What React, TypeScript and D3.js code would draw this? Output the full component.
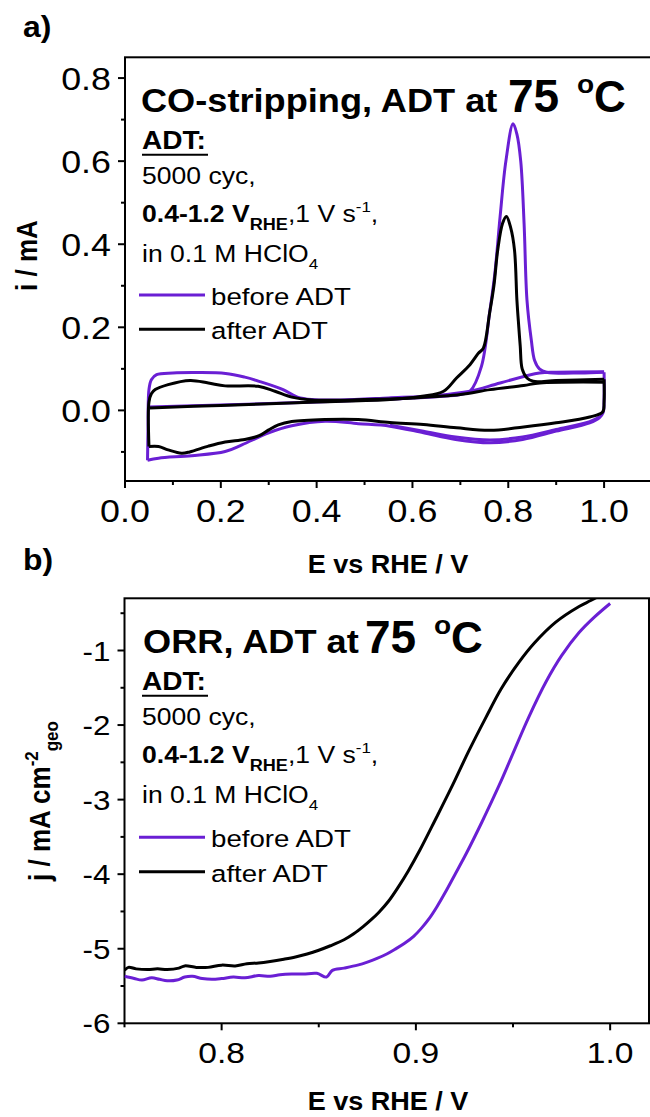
import React from "react";
import * as d3 from "d3";

const PURPLE = "#6a1fd4";
const FONT = "'Liberation Sans', Arial, sans-serif";

// ---- panel a: CO-stripping CVs, [E / V, i / mA]
const beforeStripScan = [
  [0.05, 0.008], [0.2, 0.013], [0.4, 0.02], [0.55, 0.027], [0.65, 0.033], [0.7, 0.038],
  [0.72, 0.046], [0.744, 0.106], [0.761, 0.235], [0.772, 0.33], [0.783, 0.467], [0.795, 0.6],
  [0.81, 0.69], [0.818, 0.665], [0.826, 0.6], [0.833, 0.45], [0.839, 0.266], [0.848, 0.17],
  [0.855, 0.12], [0.865, 0.1], [0.88, 0.092], [0.95, 0.09], [1.0, 0.092],
];
const beforeCathodic = [
  [1.0, 0.092], [1.0, 0.03], [0.998, -0.005], [0.99, -0.018], [0.97, -0.03], [0.9, -0.05],
  [0.83, -0.07], [0.762, -0.078], [0.69, -0.07], [0.623, -0.054], [0.553, -0.038], [0.487, -0.032],
  [0.418, -0.026], [0.348, -0.037], [0.3, -0.054], [0.244, -0.083], [0.209, -0.099], [0.139, -0.109],
  [0.07, -0.115], [0.047, -0.12],
];
const beforeCathodic2 = [
  [0.99, -0.016], [0.97, -0.027], [0.9, -0.046], [0.83, -0.064], [0.762, -0.071], [0.69, -0.064],
  [0.623, -0.05], [0.553, -0.036],
];
const beforeCv = [
  [0.047, -0.12], [0.048, -0.05], [0.05, 0.05], [0.055, 0.074], [0.066, 0.086], [0.1, 0.09],
  [0.15, 0.091], [0.21, 0.089], [0.25, 0.08], [0.28, 0.07], [0.33, 0.05], [0.36, 0.032],
  [0.39, 0.026], [0.45, 0.025], [0.55, 0.03], [0.65, 0.036], [0.72, 0.046], [0.783, 0.066],
  [0.865, 0.09], [0.9, 0.092], [1.0, 0.093],
];
const afterStripScan = [
  [0.052, 0.006], [0.2, 0.012], [0.4, 0.02], [0.553, 0.026], [0.62, 0.034], [0.665, 0.046],
  [0.692, 0.078], [0.72, 0.11], [0.738, 0.138], [0.748, 0.15], [0.761, 0.234], [0.77, 0.3],
  [0.778, 0.386], [0.788, 0.45], [0.796, 0.467], [0.805, 0.44], [0.813, 0.386], [0.818, 0.266],
  [0.822, 0.2], [0.825, 0.154], [0.829, 0.1], [0.839, 0.078], [0.852, 0.07], [0.9, 0.072],
  [1.0, 0.075],
];
const afterCathodic = [
  [1.0, 0.075], [1.0, 0.02], [0.997, -0.004], [0.97, -0.016], [0.9, -0.03], [0.832, -0.04],
  [0.762, -0.048], [0.692, -0.042], [0.623, -0.034], [0.553, -0.029], [0.487, -0.022], [0.418, -0.022],
  [0.348, -0.027], [0.32, -0.035], [0.3, -0.047], [0.28, -0.061], [0.25, -0.07], [0.209, -0.076],
  [0.174, -0.086], [0.135, -0.1], [0.118, -0.103], [0.09, -0.095], [0.07, -0.087], [0.05, -0.087],
];
const afterCv = [
  [0.05, -0.087], [0.05, 0.02], [0.055, 0.04], [0.063, 0.05], [0.09, 0.062], [0.136, 0.072],
  [0.174, 0.066], [0.209, 0.059], [0.278, 0.058], [0.313, 0.046], [0.348, 0.032], [0.39, 0.025],
  [0.5, 0.026], [0.6, 0.03], [0.7, 0.038], [0.762, 0.05], [0.832, 0.06], [0.866, 0.066], [1.0, 0.068],
];

// ---- panel b: ORR polarisation curves, [E / V, j / mA cm-2]
const beforeOrr = [
  [0.75, -5.37], [0.755, -5.4], [0.759, -5.42], [0.764, -5.39], [0.768, -5.41], [0.772, -5.43],
  [0.777, -5.42], [0.781, -5.38], [0.785, -5.37], [0.79, -5.4], [0.795, -5.41], [0.8, -5.4],
  [0.806, -5.38], [0.812, -5.39], [0.819, -5.36], [0.825, -5.37], [0.83, -5.35], [0.836, -5.34],
  [0.842, -5.34], [0.849, -5.33], [0.854, -5.38], [0.857, -5.29], [0.863, -5.26], [0.87, -5.22],
  [0.875, -5.18], [0.88, -5.13], [0.885, -5.07], [0.889, -5.01], [0.894, -4.93], [0.899, -4.83],
  [0.903, -4.72], [0.907, -4.59], [0.911, -4.43], [0.915, -4.25], [0.92, -4.01], [0.926, -3.72],
  [0.934, -3.3], [0.943, -2.8], [0.949, -2.44], [0.958, -1.9], [0.967, -1.42], [0.975, -1.07],
  [0.984, -0.76], [0.992, -0.55], [1.0, -0.37],
];
const afterOrr = [
  [0.75, -5.29], [0.752, -5.25], [0.756, -5.27], [0.762, -5.28], [0.767, -5.27], [0.772, -5.28],
  [0.778, -5.26], [0.781, -5.23], [0.787, -5.25], [0.793, -5.25], [0.8, -5.22], [0.807, -5.23],
  [0.813, -5.2], [0.819, -5.19], [0.825, -5.17], [0.832, -5.14], [0.838, -5.11], [0.844, -5.07],
  [0.85, -5.02], [0.856, -4.96], [0.863, -4.88], [0.868, -4.8], [0.873, -4.7], [0.877, -4.61],
  [0.881, -4.51], [0.886, -4.36], [0.891, -4.17], [0.896, -3.96], [0.902, -3.68], [0.91, -3.27],
  [0.919, -2.8], [0.927, -2.36], [0.936, -1.9], [0.944, -1.51], [0.953, -1.16], [0.961, -0.9],
  [0.972, -0.62], [0.984, -0.41], [0.99, -0.33], [0.995, -0.26],
];

const xTicksA = [0, 0.2, 0.4, 0.6, 0.8, 1.0];
const xMinorA = [0.1, 0.3, 0.5, 0.7, 0.9];
const yTicksA = [0, 0.2, 0.4, 0.6, 0.8];
const yMinorA = [-0.1, 0.1, 0.3, 0.5, 0.7];
const xTicksB = [0.8, 0.9, 1.0];
const xMinorB = [0.75, 0.85, 0.95];
const yTicksB = [-6, -5, -4, -3, -2, -1];
const yMinorB = [-5.5, -4.5, -3.5, -2.5, -1.5, -0.5];

// the source figure is stretched sideways, so text is scaled in x
function T({ x, y, sx = 1.13, anchor = "start", size, weight = "normal", rot = false, children }) {
  return (
    <text transform={`translate(${x},${y}) scale(${sx},1)${rot ? " rotate(-90)" : ""}`}
      textAnchor={anchor} fontSize={size} fontWeight={weight} fill="#000">
      {children}
    </text>
  );
}

function Axes({ x, y, xt, xm, yt, ym, xFmt, yFmt, xSize, ySize, xLabY, id }) {
  const [x0, x1] = x.range();
  const [y0, y1] = y.range();
  return (
    <g>
      <clipPath id={id}><rect x={x0} y={y1} width={x1 - x0} height={y0 - y1} /></clipPath>
      <rect x={x0} y={y1} width={x1 - x0} height={y0 - y1} fill="none" stroke="#000" strokeWidth={2} />
      {xt.map(v => <line key={"xt" + v} x1={x(v)} x2={x(v)} y1={y0} y2={y0 + 7} stroke="#000" strokeWidth={2} />)}
      {xm.map(v => <line key={"xm" + v} x1={x(v)} x2={x(v)} y1={y0} y2={y0 + 4} stroke="#000" strokeWidth={2} />)}
      {yt.map(v => <line key={"yt" + v} x1={x0 - 7} x2={x0} y1={y(v)} y2={y(v)} stroke="#000" strokeWidth={2} />)}
      {ym.map(v => <line key={"ym" + v} x1={x0 - 4} x2={x0} y1={y(v)} y2={y(v)} stroke="#000" strokeWidth={2} />)}
      {xt.map(v => <T key={"xl" + v} x={x(v)} y={xLabY} anchor="middle" size={xSize} sx={1.12}>{xFmt(v)}</T>)}
      {yt.map(v => <T key={"yl" + v} x={x0 - 14} y={y(v) + ySize * 0.36} anchor="end" size={ySize} sx={1.12}>{yFmt(v)}</T>)}
    </g>
  );
}

function Notes({ top, titleX, title, t75 }) {
  // top: baseline of the title line
  const b = top;
  return (
    <g>
      <T x={titleX} y={b} size={33.5} weight="bold" sx={1.08}>{title}</T>
      <T x={t75} y={b} size={46} weight="bold" sx={1.0}>75</T>
      <T x={t75 + 69} y={b - 19} size={26} weight="bold" sx={1.08}>o</T>
      <T x={t75 + 86} y={b} size={44} weight="bold" sx={1.0}>C</T>
      <T x={142} y={b + 37} size={26} weight="bold" sx={1.08}>ADT:</T>
      <line x1={142} x2={208} y1={b + 43} y2={b + 43} stroke="#000" strokeWidth={2} />
      <T x={142} y={b + 72} size={23.5}>5000 cyc,</T>
      <T x={142} y={b + 110} size={23.5}>
        <tspan fontWeight="bold">0.4-1.2 V</tspan>
        <tspan fontWeight="bold" fontSize={16} dy={8}>RHE</tspan>
        <tspan dy={-8}>,1 V s</tspan>
        <tspan fontSize={15} dy={-10}>-1</tspan>
        <tspan dy={10}>,</tspan>
      </T>
      <T x={142} y={b + 150} size={23.5}>
        in 0.1 M HClO<tspan fontSize={15} dy={7}>4</tspan>
      </T>
    </g>
  );
}

function Legend({ y1, y2 }) {
  return (
    <g>
      <line x1={139} x2={205} y1={y1} y2={y1} stroke={PURPLE} strokeWidth={3} />
      <T x={211} y={y1 + 10} size={24.5}>before ADT</T>
      <line x1={139} x2={205} y1={y2} y2={y2} stroke="#000" strokeWidth={3} />
      <T x={211} y={y2 + 10} size={24.5}>after ADT</T>
    </g>
  );
}

export default function App() {
  const xA = d3.scaleLinear().domain([0, 1.1]).range([125, 652]);
  const yA = d3.scaleLinear().domain([-0.17, 0.85]).range([481, 57.3]);
  const xB = d3.scaleLinear().domain([0.75, 1.02]).range([124.5, 649]);
  const yB = d3.scaleLinear().domain([-6, -0.3]).range([1023.3, 598.3]);

  const lineA = d3.line().x(d => xA(d[0])).y(d => yA(d[1])).curve(d3.curveCatmullRom.alpha(0.5));
  const lineB = d3.line().x(d => xB(d[0])).y(d => yB(d[1])).curve(d3.curveCatmullRom.alpha(0.5));
  const f1 = d3.format(".1f");

  const cvA = [
    [beforeStripScan, PURPLE], [beforeCathodic, PURPLE], [beforeCathodic2, PURPLE], [beforeCv, PURPLE],
    [afterStripScan, "#000"], [afterCathodic, "#000"], [afterCv, "#000"],
  ];

  return (
    <svg width={650} height={1117} style={{ position: "absolute", left: 0, top: 0, background: "#fff" }}
      fontFamily={FONT}>
      {/* ---- panel a ---- */}
      <T x={23} y={37} size={29} weight="bold" sx={1.1}>a)</T>
      <Axes id="clipA" x={xA} y={yA} xt={xTicksA} xm={xMinorA} yt={yTicksA} ym={yMinorA}
        xFmt={f1} yFmt={f1} xSize={32} ySize={32} xLabY={521.7} />
      <g clipPath="url(#clipA)">
        {cvA.map(([d, c], i) => (
          <path key={i} d={lineA(d)} fill="none" stroke={c} strokeWidth={3} strokeLinejoin="round" />
        ))}
      </g>
      <Notes top={111.7} titleX={141} title="CO-stripping, ADT at" t75={508} />
      <Legend y1={295} y2={329.3} />
      <T x={388} y={572.7} size={26} weight="bold" anchor="middle" sx={1.04}>E vs RHE / V</T>
      <T x={37} y={255.5} size={26} weight="bold" anchor="middle" rot sx={1.13}>i / mA</T>

      {/* ---- panel b ---- */}
      <T x={23} y={570} size={29} weight="bold" sx={1.1}>b)</T>
      <Axes id="clipB" x={xB} y={yB} xt={xTicksB} xm={xMinorB} yt={yTicksB} ym={yMinorB}
        xFmt={f1} yFmt={v => String(v)} xSize={30} ySize={28} xLabY={1063} />
      <g clipPath="url(#clipB)">
        <path d={lineB(beforeOrr)} fill="none" stroke={PURPLE} strokeWidth={3} strokeLinejoin="round" />
        <path d={lineB(afterOrr)} fill="none" stroke="#000" strokeWidth={3} strokeLinejoin="round" />
      </g>
      <Notes top={652.7} titleX={143} title="ORR, ADT at" t75={365} />
      <Legend y1={837.3} y2={871.7} />
      <T x={388} y={1110} size={26} weight="bold" anchor="middle" sx={1.04}>E vs RHE / V</T>
      <T x={50} y={801} size={26} weight="bold" anchor="middle" rot sx={1.13}>
        j / mA cm<tspan fontSize={17} dy={-11}>-2</tspan><tspan fontSize={17} dy={18}>geo</tspan>
      </T>
    </svg>
  );
}
